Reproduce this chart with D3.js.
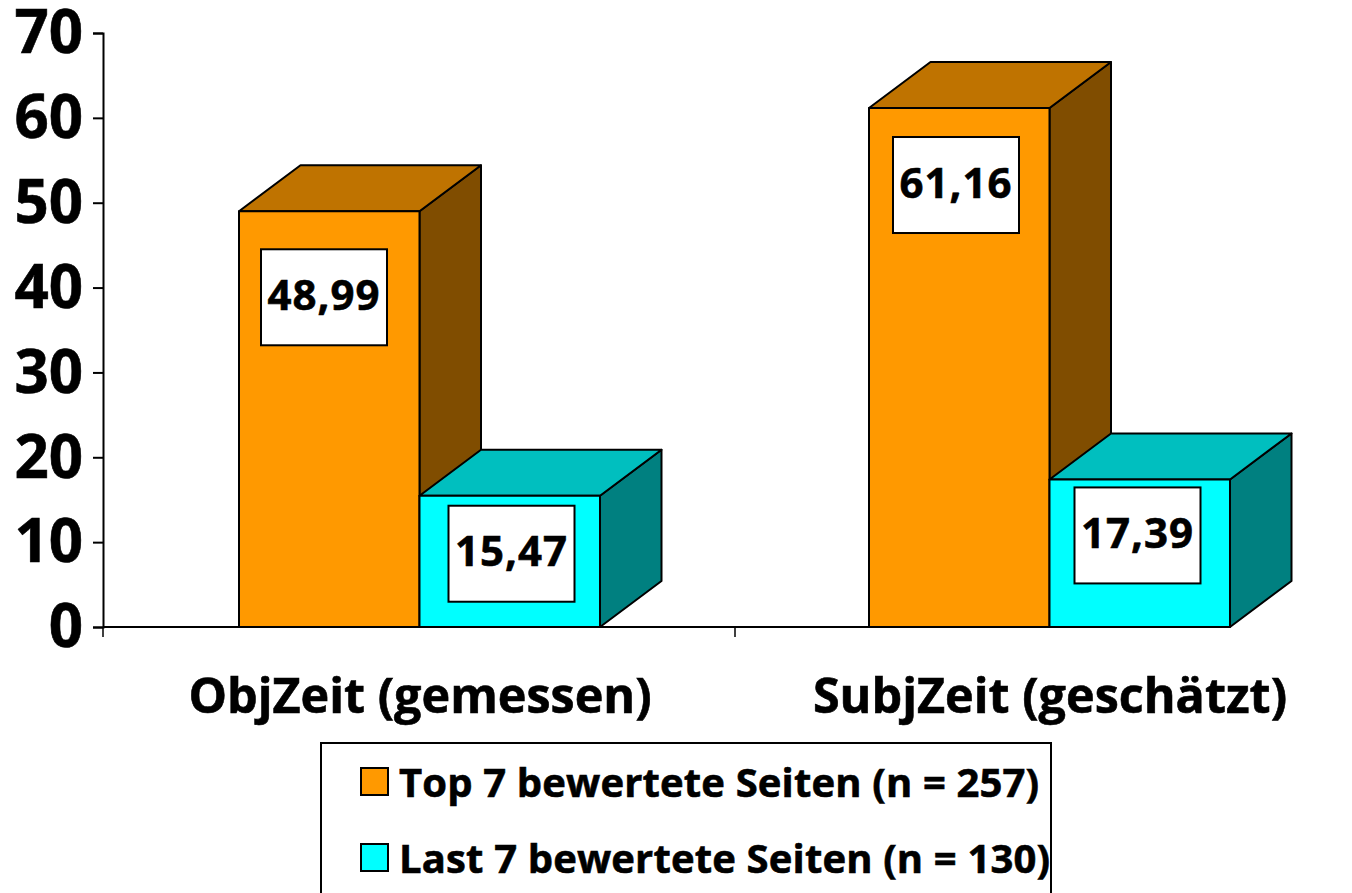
<!DOCTYPE html>
<html>
<head>
<meta charset="utf-8">
<script src="https://cdn.jsdelivr.net/npm/d3@7"></script>
<style>
  html, body { margin: 0; padding: 0; background: #fff; overflow: hidden; }
  text { font-family: "Open Sans", sans-serif; font-weight: bold; fill: #000; stroke: #000; stroke-width: 0.6px; }
</style>
</head>
<body>
<svg id="chart" width="1352" height="893"></svg>
<script>
const categories = ['ObjZeit (gemessen)', 'SubjZeit (geschätzt)'];
const seriesNames = ['Top 7 bewertete Seiten (n = 257)', 'Last 7 bewertete Seiten (n = 130)'];
const topValues = [48.99, 61.16];
const lastValues = [15.47, 17.39];
const valueLabels = [['48,99', '61,16'], ['15,47', '17,39']];
const yTicks = [0, 10, 20, 30, 40, 50, 60, 70];

const colors = [
  { front: '#ff9900', top: '#bf7300', side: '#804d00' },
  { front: '#00ffff', top: '#00bfbf', side: '#008080' }
];

const depthX = 61.5, depthY = -46;
const lineW = 2;

const svg = d3.select('#chart');

const y = d3.scaleLinear().domain([0, 70]).range([627, 33]);
// bars sit a little left of the centre of the axis bands
const x0 = d3.scaleBand().domain(categories).range([103, 1363]);
const axisBand = d3.scaleBand().domain(categories).range([103, 1367]);
const x1 = d3.scaleBand().domain([0, 1]).range([0, 361]);
const barOffset = 136;

// axes
const yAxis = svg.append('g').attr('transform', 'translate(103,0)')
  .call(d3.axisLeft(y).tickValues(yTicks).tickSize(10).tickFormat(d3.format('d')));
yAxis.selectAll('.domain, .tick line').attr('stroke', '#000').attr('stroke-width', lineW);
yAxis.selectAll('text').attr('font-size', 60).attr('x', -20).attr('dy', '.33em')
  .style('font-family', '"Open Sans", sans-serif').style('font-weight', 'bold');

const xAxis = svg.append('g').attr('transform', 'translate(0,627)');
xAxis.append('line').attr('x1', axisBand.range()[0]).attr('x2', x0(categories[1]) + barOffset + 361)
  .attr('stroke', '#000').attr('stroke-width', lineW);
xAxis.selectAll('line.tk').data(categories).enter().append('line')
  .attr('class', 'tk').attr('x1', d => axisBand(d)).attr('x2', d => axisBand(d)).attr('y1', 0).attr('y2', 10)
  .attr('stroke', '#000').attr('stroke-width', 1.5);

// bars
const series = [topValues, lastValues];
series.forEach((vals, si) => {
  const c = colors[si];
  categories.forEach((cat, ci) => {
    const v = vals[ci];
    const bx = x0(cat) + barOffset + x1(si);
    const w = x1.bandwidth();
    const yt = y(v), yb = y(0);
    const g = svg.append('g').attr('stroke', '#000').attr('stroke-width', lineW).attr('stroke-linejoin', 'round');
    g.append('path').attr('fill', c.side)
      .attr('d', d3.line()([[bx + w, yt], [bx + w + depthX, yt + depthY], [bx + w + depthX, yb + depthY], [bx + w, yb]]) + 'Z');
    g.append('path').attr('fill', c.top)
      .attr('d', d3.line()([[bx, yt], [bx + depthX, yt + depthY], [bx + w + depthX, yt + depthY], [bx + w, yt]]) + 'Z');
    g.append('rect').attr('fill', c.front)
      .attr('x', bx).attr('y', yt).attr('width', w).attr('height', yb - yt);
  });
});

// value boxes
const boxOffsets = [
  [{ dx: 22, dy: 38 }, { dx: 24, dy: 29 }],
  [{ dx: 29, dy: 10 }, { dx: 25, dy: 8 }]
];
series.forEach((vals, si) => {
  categories.forEach((cat, ci) => {
    const off = boxOffsets[si][ci];
    const bx = x0(cat) + barOffset + x1(si) + off.dx;
    const by = y(vals[ci]) + off.dy;
    svg.append('rect').attr('x', bx).attr('y', by).attr('width', 126).attr('height', 96)
      .attr('fill', '#fff').attr('stroke', '#000').attr('stroke-width', lineW);
    svg.append('text').attr('x', bx + 63).attr('y', by + 46).attr('dy', '.35em')
      .attr('text-anchor', 'middle').attr('font-size', 42)
      .style('letter-spacing', '1px')
      .text(valueLabels[si][ci]);
  });
});

// category labels
svg.selectAll('text.cat').data(categories).enter().append('text')
  .attr('class', 'cat')
  .attr('x', (d, i) => [420, 1050][i]).attr('y', 713)
  .attr('text-anchor', 'middle').attr('font-size', 48.5)
  .text(d => d);

// legend, bottom edge runs off the page like in the original
svg.append('rect').attr('x', 321).attr('y', 743).attr('width', 730).attr('height', 170)
  .attr('fill', '#fff').attr('stroke', '#000').attr('stroke-width', lineW);
seriesNames.forEach((name, i) => {
  const ly = [781.5, 857.5][i];
  svg.append('rect').attr('x', 361).attr('y', ly - 13.5).attr('width', 27).attr('height', 27)
    .attr('fill', colors[i].front).attr('stroke', '#000').attr('stroke-width', lineW);
  svg.append('text').attr('x', 399).attr('y', ly + 15)
    .attr('font-size', 40).style('letter-spacing', '0.15px').text(name);
});
</script>
</body>
</html>
